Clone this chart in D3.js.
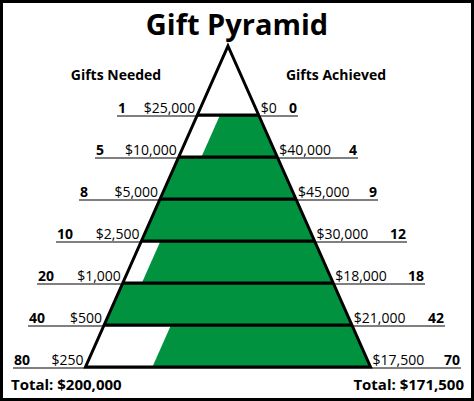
<!DOCTYPE html>
<html><head><meta charset="utf-8">
<script src="https://cdn.jsdelivr.net/npm/d3@7"></script>
<style>body{margin:0;background:#fff}svg{display:block}text{font-family:"Open Sans",sans-serif}</style>
</head><body><svg id="c" width="474" height="401"></svg>
<script>
// values
const neededCount = [1, 5, 8, 10, 20, 40, 80];
const neededAmount = ['$25,000', '$10,000', '$5,000', '$2,500', '$1,000', '$500', '$250'];
const achievedAmount = ['$0', '$40,000', '$45,000', '$30,000', '$18,000', '$21,000', '$17,500'];
const achievedCount = [0, 4, 9, 12, 18, 42, 70];
// green share of each band below a line (band i sits between line i and i+1)
const fillShare = [0.63, 1, 1, 0.89, 1, 0.73];

const W = 474, H = 401, cx = 228;
const svg = d3.select('#c');

const y = d3.scaleLinear().domain([0, 6]).range([115, 367]);
const half = d3.scaleLinear().domain([46, 367]).range([0, 142.5]);
const leftX = v => cx - half(v), rightX = v => cx + half(v);
const underStart = [117, 95, 79, 56, 37, 28, 13];
const underEnd = [298, 358, 378, 407, 425, 445, 461];

// frame
svg.append('rect').attr('x', 1.5).attr('y', 1.5).attr('width', W - 3).attr('height', H - 3)
  .attr('fill', 'none').attr('stroke', '#000').attr('stroke-width', 3);

// green bands
fillShare.forEach((f, i) => {
  const y0 = y(i), y1 = y(i + 1);
  const off = (1 - f) * (rightX(y0) - leftX(y0));
  svg.append('path')
    .attr('d', `M${leftX(y0) + off},${y0}L${rightX(y0)},${y0}L${rightX(y1)},${y1}L${leftX(y1) + off},${y1}Z`)
    .attr('fill', '#00923f');
});

// label underlines
neededCount.forEach((n, i) => {
  const v = y(i) + 1;
  svg.append('line').attr('x1', underStart[i]).attr('x2', underEnd[i]).attr('y1', v).attr('y2', v)
    .attr('stroke', '#000').attr('stroke-width', 1);
});

// triangle and dividers
svg.append('path')
  .attr('d', `M${cx},46L${rightX(367)},367L${leftX(367)},367Z`)
  .attr('fill', 'none').attr('stroke', '#000').attr('stroke-width', 3);
d3.range(0, 6).forEach(i => {
  svg.append('line').attr('x1', leftX(y(i))).attr('x2', rightX(y(i))).attr('y1', y(i)).attr('y2', y(i))
    .attr('stroke', '#000').attr('stroke-width', 3);
});

// labels
const fs = 14;
neededCount.forEach((n, i) => {
  const v = y(i) - 2;
  svg.append('text').attr('x', underStart[i] + 1).attr('y', v).attr('font-size', fs).attr('font-weight', 700).text(n);
  svg.append('text').attr('x', leftX(y(i)) - 2).attr('y', v).attr('font-size', fs).attr('text-anchor', 'end').text(neededAmount[i]);
  svg.append('text').attr('x', rightX(y(i)) + 2).attr('y', v).attr('font-size', fs).text(achievedAmount[i]);
  svg.append('text').attr('x', underEnd[i] - 1).attr('y', v).attr('font-size', fs).attr('font-weight', 700).attr('text-anchor', 'end').text(achievedCount[i]);
});

svg.append('text').attr('x', 237).attr('y', 35).attr('text-anchor', 'middle').attr('font-size', 29).attr('font-weight', 700).text('Gift Pyramid');
svg.append('text').attr('x', 116).attr('y', 80).attr('text-anchor', 'middle').attr('font-size', 14).attr('font-weight', 700).text('Gifts Needed');
svg.append('text').attr('x', 336).attr('y', 80).attr('text-anchor', 'middle').attr('font-size', 14).attr('font-weight', 700).text('Gifts Achieved');
svg.append('text').attr('x', 11).attr('y', 390).attr('font-size', 15).attr('font-weight', 700).text('Total: $200,000');
svg.append('text').attr('x', 464).attr('y', 390).attr('text-anchor', 'end').attr('font-size', 15).attr('font-weight', 700).text('Total: $171,500');
</script></body></html>
